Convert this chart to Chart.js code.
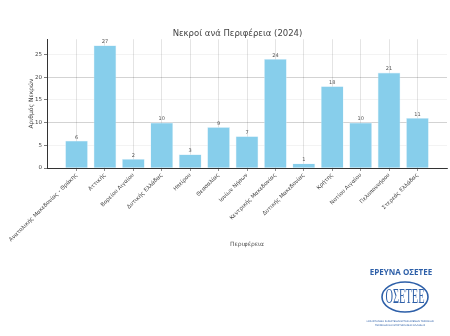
<!DOCTYPE html>
<html>
<head>
<meta charset="utf-8">
<script src="https://cdn.jsdelivr.net/npm/chart.js@4"></script>
<style>
  body { margin: 0; background: #fff; }
  #wrap { position: relative; width: 450px; height: 336px; }
</style>
</head>
<body>
<div id="wrap"><canvas id="myChart" width="450" height="336"></canvas></div>
<script>
let regions = ['Ανατολικής Μακεδονίας - Θράκης', 'Αττικής', 'Βορείου Αιγαίου', 'Δυτικής Ελλάδας',
    'Ηπείρου', 'Θεσσαλίας', 'Ιονίων Νήσων', 'Κεντρικής Μακεδονίας', 'Δυτικής Μακεδονίας',
    'Κρήτης', 'Νοτίου Αιγαίου', 'Πελοποννήσου', 'Στερεάς Ελλάδας'];
let deaths = [6, 27, 2, 10, 3, 9, 7, 24, 1, 18, 10, 21, 11];
let yTicks = [0, 5, 10, 15, 20, 25];

const ctx = document.getElementById('myChart');
const font = 'DejaVu Sans';

// numbers above the bars
const barLabels = {
    id: 'bar_labels',
    afterDatasetsDraw: (chart) => {
        const c = chart.ctx;
        const meta = chart.getDatasetMeta(0);
        c.save();
        c.font = '5px "' + font + '"';
        c.fillStyle = '#555';
        c.textAlign = 'center';
        c.textBaseline = 'bottom';
        meta.data.forEach((bar, i) => {
            c.fillText(deaths[i], bar.x, bar.y - 1);
        });
        c.restore();
    }
};

// logo bottom right
const logo = {
    id: 'logo',
    afterDraw: (chart) => {
        const c = chart.ctx;
        c.save();
        c.fillStyle = '#2d5fa8';
        c.strokeStyle = '#2d5fa8';
        c.font = 'bold 8px "Open Sans"';
        c.textAlign = 'center';
        c.textBaseline = 'middle';
        c.fillText('ΕΡΕΥΝΑ ΟΣΕΤΕΕ', 401, 273);
        c.lineWidth = 1.6;
        c.beginPath();
        c.ellipse(405, 297, 23, 15, 0, 0, Math.PI * 2);
        c.stroke();
        c.save();
        c.translate(405, 297);
        c.scale(0.8, 1.6);
        c.font = '13px "Liberation Serif"';
        c.fillText('ΟΣΕΤΕΕ', 0, 0.5);
        c.restore();
        c.font = '2.5px "DejaVu Sans"';
        c.fillText('ΟΜΟΣΠΟΝΔΙΑ ΣΩΜΑΤΕΙΩΝ ΕΡΓΑΖΟΜΕΝΩΝ ΤΕΧΝΙΚΩΝ', 400, 321);
        c.fillText('ΤΕΧΝΙΚΩΝ ΚΑΙ ΕΠΙΣΤΗΜΟΝΩΝ ΕΛΛΑΔΟΣ', 400, 325);
        c.restore();
    }
};

const myChart = new Chart(ctx, {
    type: 'bar',
    data: {
        datasets: [{
            label: 'Νεκροί',
            data: deaths.map((v, i) => ({x: i, y: v})),
            backgroundColor: '#87CEEB',
            borderColor: 'rgba(220,240,250,0.9)',
            borderWidth: 0.6,
            barPercentage: 0.8,
            categoryPercentage: 1
        }]
    },
    options: {
        responsive: false,
        animation: false,
        layout: { padding: { top: 0, left: 28, right: 3, bottom: 88 } },
        plugins: {
            legend: { display: false },
            tooltip: { enabled: false },
            title: {
                display: true,
                text: 'Νεκροί ανά Περιφέρεια (2024)',
                color: '#444',
                font: { family: font, size: 8.5, weight: 'normal' },
                padding: { top: 29, bottom: 0 }
            }
        },
        scales: {
            x: {
                type: 'linear',
                offset: false,
                min: -1.04,
                max: 13.04,
                z: 1,
                afterBuildTicks: (axis) => {
                    axis.ticks = regions.map((r, i) => ({ value: i }));
                },
                afterFit: (scale) => {
                    scale.height = 80;
                    scale.paddingLeft = 0;
                    scale.paddingRight = 0;
                },
                ticks: {
                    autoSkip: false,
                    minRotation: 45,
                    maxRotation: 45,
                    padding: 1,
                    color: '#444',
                    font: { family: font, size: 5.5 },
                    callback: (v) => regions[v]
                },
                grid: {
                    offset: false,
                    color: 'rgba(0,0,0,0.18)',
                    lineWidth: 0.6,
                    borderDash: [3, 2, 1, 2],
                    tickLength: 3,
                    tickColor: '#444',
                    drawTicks: true
                },
                border: { display: true, color: '#333', width: 1 },
                title: {
                    display: true,
                    text: 'Περιφέρεια',
                    color: '#555',
                    font: { family: font, size: 6 },
                    padding: 0
                }
            },
            y: {
                min: 0,
                max: 28.35,
                afterBuildTicks: (axis) => {
                    axis.ticks = yTicks.map(v => ({ value: v }));
                },
                afterFit: (scale) => {
                    scale.width = 19;
                },
                ticks: {
                    color: '#444',
                    padding: 2,
                    font: { family: font, size: 5.5 },
                    callback: (v) => String(v)
                },
                grid: {
                    color: (c) => (c.tick && c.tick.value % 10 === 0 && c.tick.value > 0) ? 'rgba(0,0,0,0.25)' : (c.tick && c.tick.value > 0 ? 'rgba(0,0,0,0.07)' : 'rgba(0,0,0,0)'),
                    lineWidth: 0.7,
                    borderDash: [3, 2],
                    tickLength: 3,
                    tickColor: '#444'
                },
                border: { display: true, color: '#333', width: 1 },
                title: {
                    display: true,
                    text: 'Αριθμός Νεκρών',
                    color: '#444',
                    font: { family: font, size: 6 },
                    padding: 0
                }
            }
        }
    },
    plugins: [barLabels, logo]
});
</script>
</body>
</html>
